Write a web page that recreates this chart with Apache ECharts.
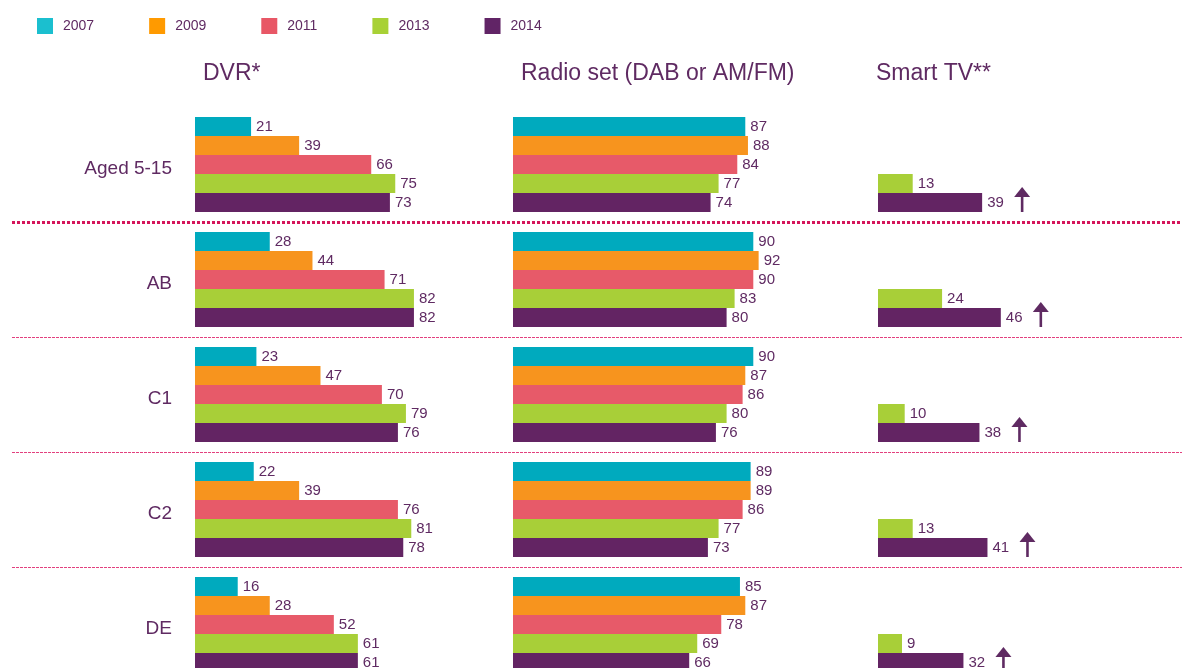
<!DOCTYPE html>
<html>
<head>
<meta charset="utf-8">
<script src="https://cdn.jsdelivr.net/npm/echarts@6/dist/echarts.min.js"></script>
<style>
  html, body { margin: 0; padding: 0; background: #fff; overflow: hidden; }
  #chart { width: 1182px; height: 700px; }
</style>
</head>
<body>
<div id="chart"></div>
<script>
/****** DATA ******/
const groups = ['Aged 5-15', 'AB', 'C1', 'C2', 'DE'];
const years = ['2007', '2009', '2011', '2013', '2014'];
const panelTitles = ['DVR*', 'Radio set (DAB or AM/FM)', 'Smart TV**'];

// one array per year, values in group order
const dvrValues = [
    [21, 28, 23, 22, 16],
    [39, 44, 47, 39, 28],
    [66, 71, 70, 76, 52],
    [75, 82, 79, 81, 61],
    [73, 82, 76, 78, 61]
];
const radioValues = [
    [87, 90, 90, 89, 85],
    [88, 92, 87, 89, 87],
    [84, 90, 86, 86, 78],
    [77, 83, 80, 77, 69],
    [74, 80, 76, 73, 66]
];
// smart TV only measured in 2013 and 2014
const smartValues = [
    [null, null, null, null, null],
    [null, null, null, null, null],
    [null, null, null, null, null],
    [13, 24, 10, 13, 9],
    [39, 46, 38, 41, 32]
];

/****** STYLE ******/
const barColors = ['#00aabe', '#f7941e', '#e75a69', '#a8cf38', '#632463'];
const legendColors = ['#1bbfcf', '#ff9a00', '#e85766', '#a8d136', '#612466'];
const textPurple = '#5f2a62';
const fontFamily = 'Arial, "Liberation Sans", sans-serif';
const catGap = 0.174;

const gridLefts = [195, 513, 878];
const gridTop = 107;
const gridHeight = 575;

// the chart runs past the bottom of the window, like the reference
var myChart = echarts.init(document.getElementById('chart'));

function renderArrow(params, api) {
    var v = api.value(0), c = api.value(1);
    var p = api.coord([v, c]);
    var band = api.size([0, 1], [v, c])[1];
    var bottom = p[1] + band * (1 - catGap) / 2;
    var x = p[0] + 40;
    return {
        type: 'group',
        children: [{
            type: 'polygon',
            shape: { points: [[x, bottom - 25], [x - 8, bottom - 15], [x + 8, bottom - 15]] },
            style: { fill: textPurple }
        }, {
            type: 'rect',
            shape: { x: x - 1.3, y: bottom - 16, width: 2.6, height: 16 },
            style: { fill: textPurple }
        }]
    };
}

var grids = gridLefts.map(function (l) {
    return { left: l, top: gridTop, width: 267, height: gridHeight };
});
// full-width grid used only for the separator lines
grids.push({ left: 12, right: 0, top: gridTop, height: gridHeight });

var xAxes = grids.map(function (g, i) {
    return { type: 'value', gridIndex: i, min: 0, max: 100, show: false };
});

var yAxes = [0, 1, 2].map(function (i) {
    return {
        type: 'category',
        gridIndex: i,
        data: groups,
        inverse: true,
        axisLine: { show: false },
        axisTick: { show: false },
        splitLine: { show: false },
        axisLabel: {
            show: i === 0,
            margin: 23,
            color: textPurple,
            fontSize: 19,
            fontFamily: fontFamily,
            verticalAlign: 'top',
            lineHeight: 8
        }
    };
});
yAxes.push({
    type: 'category', gridIndex: 3, data: groups, inverse: true, position: 'left',
    axisLine: { show: false }, axisTick: { show: false }, axisLabel: { show: false },
    splitLine: {
        show: true,
        lineStyle: {
            color: ['transparent', '#d4145a', 'transparent', 'transparent', 'transparent', 'transparent'],
            width: 3, type: [3, 2]
        }
    }
});
yAxes.push({
    type: 'category', gridIndex: 3, data: groups, inverse: true, position: 'right',
    axisLine: { show: false }, axisTick: { show: false }, axisLabel: { show: false },
    splitLine: {
        show: true,
        lineStyle: {
            color: ['transparent', 'transparent', '#e2407e', '#e2407e', '#e2407e', 'transparent'],
            width: 1, type: [3, 1]
        }
    }
});

var series = [];
[dvrValues, radioValues, smartValues].forEach(function (panel, p) {
    years.forEach(function (year, k) {
        series.push({
            name: year,
            type: 'bar',
            xAxisIndex: p,
            yAxisIndex: p,
            data: panel[k],
            barGap: 0,
            barCategoryGap: (catGap * 100) + '%',
            itemStyle: { color: barColors[k] },
            label: {
                show: true,
                position: 'right',
                distance: 5,
                color: textPurple,
                fontSize: 15,
                fontFamily: fontFamily
            },
            animation: false
        });
    });
});
series.push({
    name: 'arrow',
    type: 'custom',
    xAxisIndex: 2,
    yAxisIndex: 2,
    renderItem: renderArrow,
    encode: { x: 0, y: 1 },
    data: smartValues[4].map(function (v, i) { return [v, i]; }),
    silent: true,
    animation: false
});

var option = {
    backgroundColor: '#fff',
    animation: false,
    title: panelTitles.map(function (t, i) {
        return {
            text: t,
            left: [203, 521, 876][i],
            top: 62,
            padding: 0,
            textStyle: { color: textPurple, fontSize: 23, fontWeight: 'normal', fontFamily: fontFamily }
        };
    }),
    legend: {
        left: 37,
        top: 18,
        padding: 0,
        itemWidth: 16,
        itemHeight: 16,
        itemGap: 55,
        icon: 'rect',
        data: years.map(function (y, k) {
            return { name: y, itemStyle: { color: legendColors[k] } };
        }),
        textStyle: { color: textPurple, fontSize: 14, fontFamily: fontFamily, padding: [0, 0, 0, 5] }
    },
    grid: grids,
    xAxis: xAxes,
    yAxis: yAxes,
    series: series
};

myChart.setOption(option);
</script>
</body>
</html>
